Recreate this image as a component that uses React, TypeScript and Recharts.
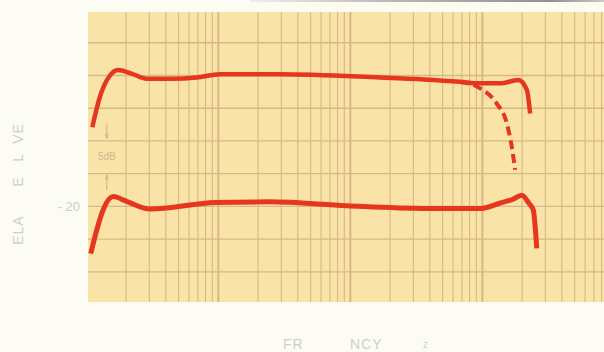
import { LineChart, Line, XAxis, YAxis, ReferenceLine, ReferenceArea, ReferenceDot } from "recharts";

// chart recorder traces (Hz, dB)
const upperHz = [11.1, 12.7, 15.1, 17.4, 22, 28.6, 45, 68.5, 103, 293, 1675, 3600, 6760, 9600, 13600, 18700, 21700, 23000];
const upperDb = [-7.9, -3.2, 0.0, 0.85, 0.3, -0.5, -0.5, -0.3, 0.2, 0.2, -0.3, -0.6, -0.95, -1.2, -1.2, -0.7, -2.2, -5.8];

const dashedHz = [6760, 9600, 12800, 15300, 16700, 17700];
const dashedDb = [-0.95, -1.96, -4.25, -7.3, -10.9, -14.4];

const lowerHz = [10.8, 12.0, 13.4, 16.0, 20, 30.3, 95.5, 244, 938, 3590, 9850, 13600, 17000, 19900, 22500, 24300, 25800];
const lowerDb = [-27.2, -23.6, -20.55, -18.5, -19.2, -20.4, -19.4, -19.3, -19.9, -20.3, -20.3, -19.5, -18.9, -18.3, -19.5, -20.55, -26.4];

const levelLines = [5, 0, -5, -10, -15, -20, -25, -30];
const yTicks = [-20];
const decades = [10, 100, 1000, 10000];
const digits = [1, 2, 3, 4, 5, 6, 7, 8, 9];

const xDomain: [number, number] = [10.3, 83400];
const yDomain: [number, number] = [-34.6, 9.7];

const zip = (hz: number[], db: number[]) => hz.map((h, i) => ({ hz: h, db: db[i] }));
const upper = zip(upperHz, upperDb);
const dashed = zip(dashedHz, dashedDb);
const lower = zip(lowerHz, lowerDb);
const freqLines = decades.flatMap((d) => digits.map((k) => d * k));

const RED = "#e6361d";
const GRID = "#d7b886";
const FAINT = "#cfd1c0";

const textStyle: React.CSSProperties = {
  position: "absolute",
  fontFamily: "Liberation Sans, Arial, sans-serif",
  color: FAINT,
  whiteSpace: "pre",
};

export default function App() {
  return (
    <div style={{ position: "absolute", left: 0, top: 0, width: 604, height: 352, background: "#fcfcf4", overflow: "hidden" }}>
      <div
        style={{
          position: "absolute", left: 250, top: 0, width: 354, height: 2,
          background: "linear-gradient(to right, #efefe9, #b8b8b0 40%, #8f918a 85%, #c9c9c1)",
        }}
      />
      <LineChart width={604} height={352} margin={{ top: 12, right: 0, bottom: 50, left: 0 }}>
        <XAxis dataKey="hz" type="number" scale="log" domain={xDomain} allowDataOverflow hide />
        <YAxis
          type="number"
          domain={yDomain}
          ticks={yTicks}
          width={88}
          allowDataOverflow
          axisLine={false}
          tickLine={false}
          tickSize={6}
          tickMargin={2}
          tickFormatter={(v: number) => (v < 0 ? "- " + Math.abs(v) : String(v))}
          tick={{ fill: FAINT, fontSize: 13, fontFamily: "Liberation Sans, Arial, sans-serif" }}
        />
        <ReferenceArea x1={xDomain[0]} x2={xDomain[1]} y1={yDomain[0]} y2={yDomain[1]} fill="#f9e3a7" fillOpacity={1} stroke="none" />
        {freqLines.map((f) => (
          <ReferenceLine
            key={"f" + f}
            x={f}
            stroke={GRID}
            strokeWidth={decades.includes(f) ? 2 : 1.1}
          />
        ))}
        {levelLines.map((l) => (
          <ReferenceLine key={"l" + l} y={l} stroke={GRID} strokeWidth={1.3} />
        ))}
        <ReferenceLine segment={[{ x: 14.3, y: -7.3 }, { x: 14.3, y: -9.6 }]} stroke="#c9b58e" strokeWidth={1} />
        <ReferenceLine segment={[{ x: 13.9, y: -8.9 }, { x: 14.3, y: -9.6 }]} stroke="#c9b58e" strokeWidth={1} />
        <ReferenceLine segment={[{ x: 14.7, y: -8.9 }, { x: 14.3, y: -9.6 }]} stroke="#c9b58e" strokeWidth={1} />
        <ReferenceLine segment={[{ x: 14.3, y: -15.2 }, { x: 14.3, y: -17.5 }]} stroke="#c9b58e" strokeWidth={1} />
        <ReferenceLine segment={[{ x: 13.9, y: -15.9 }, { x: 14.3, y: -15.2 }]} stroke="#c9b58e" strokeWidth={1} />
        <ReferenceLine segment={[{ x: 14.7, y: -15.9 }, { x: 14.3, y: -15.2 }]} stroke="#c9b58e" strokeWidth={1} />
        <ReferenceDot
          x={14.3}
          y={-12.4}
          r={0}
          stroke="none"
          label={{ value: "5dB", position: "center", fill: "#cdb894", fontSize: 10, fontFamily: "Liberation Sans, Arial, sans-serif" }}
        />
        <Line data={upper} dataKey="db" type="monotone" stroke={RED} strokeWidth={4.5} dot={false} isAnimationActive={false} />
        <Line data={dashed} dataKey="db" type="monotone" stroke={RED} strokeWidth={4} strokeDasharray="9 5" dot={false} isAnimationActive={false} />
        <Line data={lower} dataKey="db" type="monotone" stroke={RED} strokeWidth={5} dot={false} isAnimationActive={false} />
      </LineChart>
      <div
        style={{
          ...textStyle, left: 18, top: 184, fontSize: 14, letterSpacing: 1,
          transform: "translate(-50%, -50%) rotate(-90deg)",
        }}
      >
        {"ELA      E   L  VE"}
      </div>
      <div style={{ ...textStyle, left: 283, top: 337, fontSize: 14, lineHeight: "14px", letterSpacing: 1 }}>FR</div>
      <div style={{ ...textStyle, left: 350, top: 337, fontSize: 14, lineHeight: "14px", letterSpacing: 1 }}>NCY</div>
      <div style={{ ...textStyle, left: 423, top: 340, fontSize: 10, lineHeight: "10px" }}>z</div>
    </div>
  );
}
